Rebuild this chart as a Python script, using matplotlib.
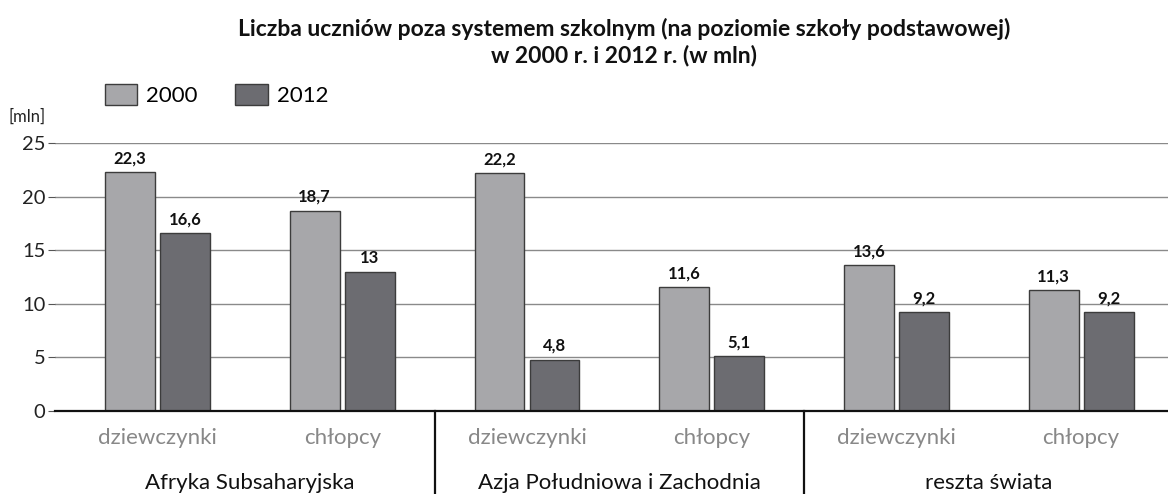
import matplotlib
matplotlib.use("Agg")
import matplotlib.pyplot as plt
import numpy as np

plt.rcParams['font.family'] = ['Lato', 'DejaVu Sans']

# data
regions = ['Afryka Subsaharyjska', 'Azja Południowa i Zachodnia', 'reszta świata']
genders = ['dziewczynki', 'chłopcy']
years = ['2000', '2012']
vals_2000 = [22.3, 18.7, 22.2, 11.6, 13.6, 11.3]
vals_2012 = [16.6, 13.0, 4.8, 5.1, 9.2, 9.2]

colors = {'2000': '#a7a7aa', '2012': '#6c6c71'}
edge = '#3c3c3c'

fig = plt.figure(figsize=(11.68, 4.94), dpi=100)
ax = fig.add_axes([55 / 1168, 83 / 494, 1 - 55 / 1168, 268 / 494])

x = np.arange(len(vals_2000))
w = 0.27
gap = 0.014
b1 = ax.bar(x - w / 2 - gap, vals_2000, w, color=colors['2000'], edgecolor=edge, linewidth=1, label=years[0], zorder=3)
b2 = ax.bar(x + w / 2 + gap, vals_2012, w, color=colors['2012'], edgecolor=edge, linewidth=1, label=years[1], zorder=3)

def fmt(v):
    s = ('%.1f' % v).replace('.', ',')
    return s[:-2] if s.endswith(',0') else s

for bars, vals in [(b1, vals_2000), (b2, vals_2012)]:
    for b, v in zip(bars, vals):
        ax.annotate(fmt(v), (b.get_x() + b.get_width() / 2, v), xytext=(0, 4),
                    textcoords='offset points', ha='center', va='bottom',
                    fontsize=12, fontweight='bold', color='#111111')

ax.set_xlim(-0.555, 5.47)
ax.set_ylim(0, 25)
ax.set_yticks([0, 5, 10, 15, 20, 25])
ax.tick_params(axis='y', length=5, color='#555555', labelsize=14.5, pad=2, labelcolor='#222222')
ax.yaxis.grid(True, color='#8a8a8a', linewidth=1)
ax.set_axisbelow(True)

ax.set_xticks(x)
ax.set_xticklabels(genders * 3, fontsize=16, color='#888888')
ax.tick_params(axis='x', length=0, pad=12)

for s in ['top', 'right', 'left']:
    ax.spines[s].set_visible(False)
ax.spines['bottom'].set_color('#111111')
ax.spines['bottom'].set_linewidth(1.6)
ax.spines['bottom'].set_zorder(4)

trans = ax.get_xaxis_transform()
for sep in [1.5, 3.5]:
    ax.plot([sep, sep], [0, -0.32], color='#111111', linewidth=1.6, transform=trans, clip_on=False)
for i, r in enumerate(regions):
    ax.text(2 * i + 0.5, -0.27, r, transform=trans, ha='center', va='center', fontsize=16, color='#111111')

fig.text(8 / 1168, 1 - 117 / 494, '[mln]', ha='left', va='center', fontsize=12, color='#222222')

ax.legend(loc='center left', bbox_to_anchor=(0.027, 1.18), ncol=2, frameon=False,
          fontsize=16, handlelength=1.45, handleheight=1.1, columnspacing=1.7, handletextpad=0.4)

fig.text(0.534, 1 - 42 / 494, 'Liczba uczniów poza systemem szkolnym (na poziomie szkoły podstawowej)\nw 2000 r. i 2012 r. (w mln)',
         ha='center', va='center', fontsize=16.5, fontweight='bold', color='#111111', linespacing=1.25)

fig.savefig('out.png', dpi=100)
